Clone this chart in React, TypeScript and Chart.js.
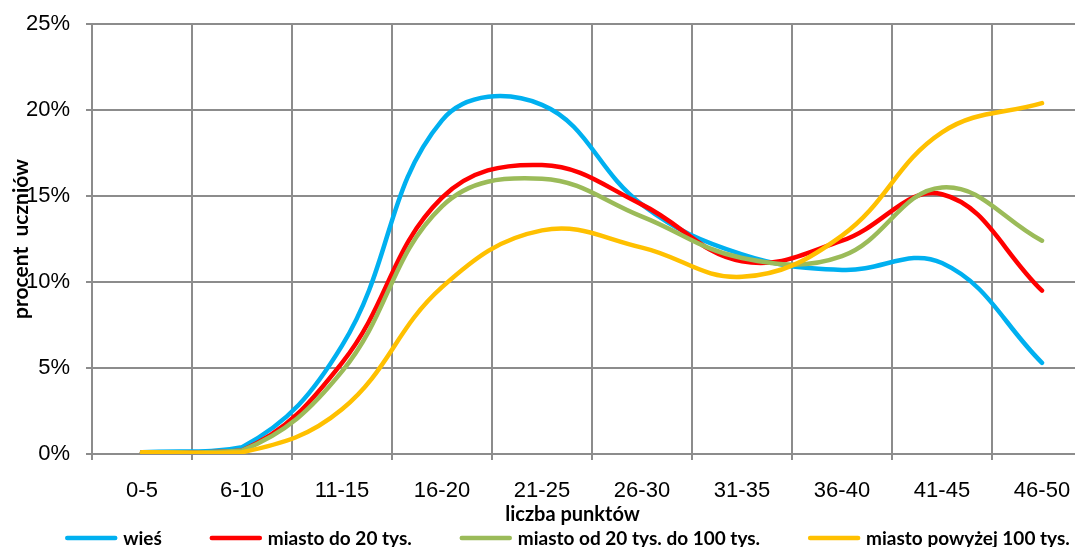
import React, { useEffect, useRef } from "react";
import { Chart, registerables } from "chart.js";

Chart.register(...registerables);

const categories = ["0-5", "6-10", "11-15", "16-20", "21-25", "26-30", "31-35", "36-40", "41-45", "46-50"];
const wies = [0.1, 0.4, 6.3, 19.4, 20.3, 14.5, 11.6, 10.7, 11.1, 5.3];
const miastoDo20 = [0.1, 0.2, 5.3, 14.9, 16.8, 14.5, 11.2, 12.4, 15.1, 9.5];
const miasto20do100 = [0.1, 0.2, 4.8, 14.4, 16.0, 13.8, 11.4, 11.5, 15.5, 12.4];
const miastoPow100 = [0.1, 0.1, 2.6, 9.7, 13.0, 12.0, 10.3, 12.7, 18.7, 20.4];
const seriesNames = ["wieś", "miasto do 20 tys.", "miasto od 20 tys. do 100 tys.", "miasto powyżej 100 tys."];
const seriesColors = ["#00B0F0", "#FF0000", "#9BBB59", "#FFC000"];
const yMin = 0;
const yMax = 25;
const yStep = 5;
const xTitle = "liczba punktów";
const yTitle = "procent  uczniów";

const GRID = "#8c8c8c";
const TICK_FONT = { family: "'Liberation Sans', Arial, sans-serif", size: 22 };
const BOLD_FAMILY = "Lato, 'Liberation Sans', sans-serif";

// x-axis title and legend, centred on the whole chart like the original
const bottomTexts = {
  id: "bottomTexts",
  afterDraw(chart: any) {
    const ctx = chart.ctx as CanvasRenderingContext2D;
    const cx = chart.width / 2;
    ctx.save();
    ctx.fillStyle = "#000";
    ctx.textBaseline = "middle";
    ctx.textAlign = "center";
    ctx.font = `bold 20px ${BOLD_FAMILY}`;
    ctx.fillText(xTitle, cx + 5, chart.chartArea.bottom + 61);

    const lineW = 52;
    const textGap = 6;
    const itemGap = 48;
    ctx.font = `bold 19px ${BOLD_FAMILY}`;
    ctx.textAlign = "left";
    const items = chart.data.datasets.map((ds: any) => ({
      text: ds.label as string,
      color: ds.borderColor as string,
      w: lineW + textGap + ctx.measureText(ds.label).width,
    }));
    const total = items.reduce((a: number, it: any) => a + it.w, 0) + itemGap * (items.length - 1);
    let x = cx - total / 2;
    const y = chart.height - 9;
    for (const it of items) {
      ctx.strokeStyle = it.color;
      ctx.lineWidth = 4.5;
      ctx.lineCap = "round";
      ctx.beginPath();
      ctx.moveTo(x + 2, y);
      ctx.lineTo(x + lineW - 2, y);
      ctx.stroke();
      ctx.fillText(it.text, x + lineW + textGap, y + 1);
      x += it.w + itemGap;
    }
    ctx.restore();
  },
};

export default function App() {
  const ref = useRef<HTMLCanvasElement | null>(null);

  useEffect(() => {
    if (!ref.current) return;
    const values = [wies, miastoDo20, miasto20do100, miastoPow100];
    const chart = new Chart(ref.current, {
      type: "line",
      data: {
        labels: categories,
        datasets: values.map((d, i) => ({
          label: seriesNames[i],
          data: d,
          borderColor: seriesColors[i],
          backgroundColor: seriesColors[i],
          borderWidth: 4.5,
          borderCapStyle: "round" as const,
          borderJoinStyle: "round" as const,
          pointRadius: 0,
          pointHoverRadius: 0,
          tension: 0.4,
          fill: false,
          order: values.length - i,
        })),
      },
      plugins: [bottomTexts],
      options: {
        animation: false,
        responsive: false,
        devicePixelRatio: 1,
        layout: { padding: { top: 16, bottom: 20, left: 0, right: 35 } },
        plugins: {
          tooltip: { enabled: false },
          legend: { display: false },
        },
        scales: {
          x: {
            type: "category",
            offset: true,
            grid: { offset: true, color: GRID, lineWidth: 2, tickLength: 6, drawTicks: true },
            border: { color: GRID, width: 2 },
            ticks: { font: TICK_FONT, color: "#000", padding: 18, maxRotation: 0, autoSkip: false },
            title: { display: false },
            afterFit: (s: any) => {
              s.height = 73;
              s.paddingLeft = 0;
              s.paddingRight = 0;
            },
          },
          y: {
            type: "linear",
            min: yMin,
            max: yMax,
            grid: { color: GRID, lineWidth: 2, tickLength: 6, drawTicks: true },
            border: { color: GRID, width: 2 },
            ticks: {
              stepSize: yStep,
              font: TICK_FONT,
              color: "#000",
              padding: 16,
              callback: (v: any) => `${v}%`,
            },
            title: {
              display: true,
              text: yTitle,
              font: { family: BOLD_FAMILY, size: 21, weight: "bold" as const },
              color: "#000",
              padding: { top: 1, bottom: 0 },
            },
            afterFit: (s: any) => {
              s.width = 84;
              s.paddingTop = 0;
              s.paddingBottom = 0;
            },
          },
        },
      },
    });
    return () => chart.destroy();
  }, []);

  return (
    <div style={{ width: 1075, height: 539, overflow: "hidden", position: "relative" }}>
      <canvas ref={ref} width={1119} height={539} style={{ display: "block" }} />
    </div>
  );
}
